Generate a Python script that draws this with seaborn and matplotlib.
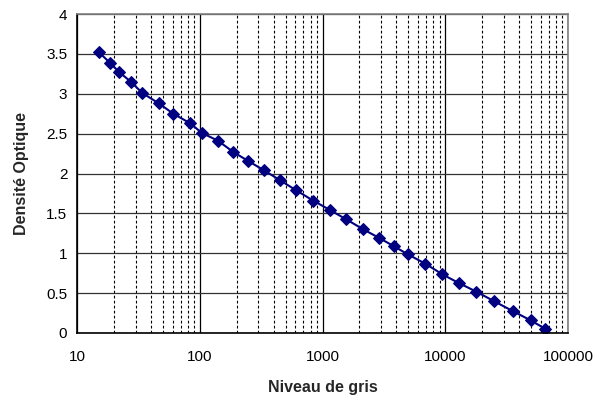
import numpy as np
import pandas as pd
import matplotlib
matplotlib.use("Agg")
import matplotlib.pyplot as plt
import seaborn as sns
from matplotlib.ticker import LogLocator, FixedLocator, NullFormatter

# --- data ---
niveau_gris = [15.1, 18.5, 22.1, 27.5, 34.0, 46.3, 60.9, 83.4, 103.8, 140.9,
               187.6, 245.9, 333.8, 447.9, 604.7, 841, 1151, 1545, 2125, 2901,
               3825, 4946, 6883, 9469, 12875, 17923, 25100, 35850, 49700, 65000]
densite = [3.52, 3.39, 3.27, 3.15, 3.01, 2.88, 2.75, 2.63, 2.51, 2.41,
           2.27, 2.16, 2.04, 1.918, 1.793, 1.659, 1.542, 1.429, 1.304, 1.191,
           1.087, 0.987, 0.869, 0.736, 0.627, 0.518, 0.397, 0.271, 0.158, 0.054]
y_ticks = [0, 0.5, 1, 1.5, 2, 2.5, 3, 3.5, 4]
x_ticks = [10, 100, 1000, 10000, 100000]

df = pd.DataFrame({"gris": niveau_gris, "do": densite})

sns.set_style("white")
plt.rcParams['font.family'] = ['Liberation Sans', 'DejaVu Sans']

fig = plt.figure(figsize=(6.03, 3.96), dpi=100)
ax = fig.add_axes([77 / 603, 63 / 396, 491 / 603, 319 / 396])

ax.set_xscale("log")
ax.set_xlim(10, 100000)
ax.set_ylim(0, 4)

# grid: solid horizontal, solid decades, dotted minor verticals
ax.yaxis.set_major_locator(FixedLocator(y_ticks))
ax.xaxis.set_major_locator(FixedLocator(x_ticks))
ax.xaxis.set_minor_locator(LogLocator(base=10, subs=np.arange(2, 10), numticks=20))
ax.xaxis.set_minor_formatter(NullFormatter())
ax.grid(True, which="major", axis="y", color="#333333", linewidth=0.9)
ax.grid(True, which="major", axis="x", color="black", linewidth=0.9)
ax.grid(True, which="minor", axis="x", color="black", linewidth=0.8, linestyle=(0, (2.5, 2)))
ax.set_axisbelow(True)

sns.lineplot(data=df, x="gris", y="do", ax=ax, color="#000080", linewidth=1.5,
             marker="D", markersize=6, markeredgecolor="#000080",
             markerfacecolor="#000080")

ax.set_xticklabels(["10", "100", "1000", "10000", "100000"])
ax.set_yticklabels(["0", "0.5", "1", "1.5", "2", "2.5", "3", "3.5", "4"])
ax.tick_params(axis="both", which="major", labelsize=11, length=4, width=1,
               color="black", direction="out", pad=3, labelcolor="black")
ax.tick_params(axis="x", which="major", pad=8)
ax.tick_params(axis="both", which="minor", length=0)

for side in ["top", "right"]:
    ax.spines[side].set_color("#808080")
    ax.spines[side].set_linewidth(1.2)
for side in ["left", "bottom"]:
    ax.spines[side].set_color("black")
    ax.spines[side].set_linewidth(1.2)

ax.set_xlabel("Niveau de gris", fontsize=11.5, fontweight="bold", labelpad=12)
ax.set_ylabel("Densité Optique", fontsize=11.5, fontweight="bold", labelpad=12)

fig.savefig("out.png", dpi=100)
